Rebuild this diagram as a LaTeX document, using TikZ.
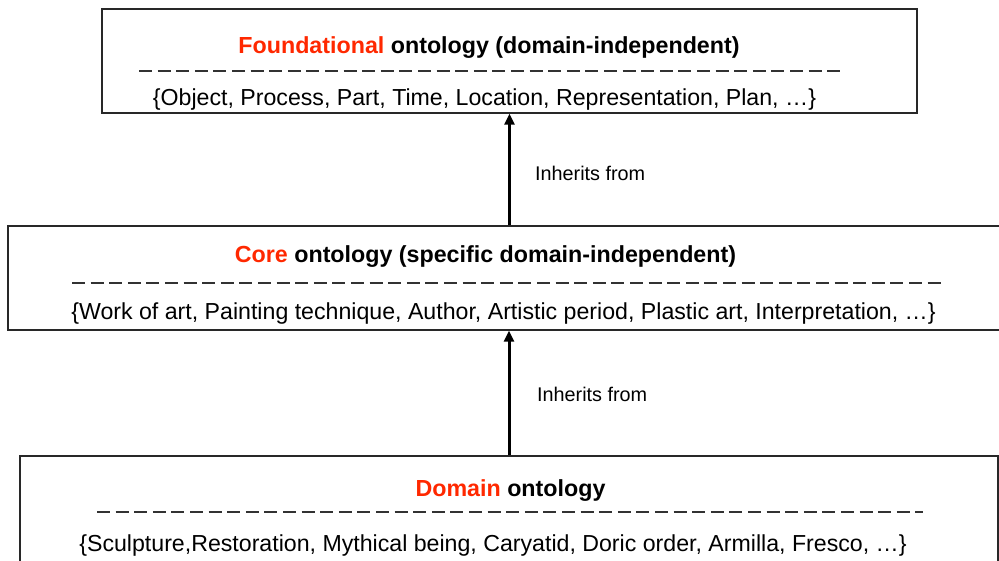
\documentclass[tikz,border=0pt]{standalone}
\usepackage{fontspec}
\setmainfont{Liberation Sans}
\usetikzlibrary{arrows.meta,calc}
\definecolor{hilite}{RGB}{255,40,0}
\definecolor{framegray}{RGB}{40,40,40}
\definecolor{dashgray}{RGB}{50,50,50}
\begin{document}
\begin{tikzpicture}[x=1pt,y=-1pt,
  layer/.style={draw=framegray,line width=1.3pt,rectangle,inner sep=0pt},
  title/.style={anchor=base,inner sep=0pt,font=\fontsize{23.25}{27}\selectfont\bfseries},
  members/.style={anchor=base,inner sep=0pt,font=\fontsize{23.15}{27}\selectfont},
  relabel/.style={anchor=base west,inner sep=0pt,font=\fontsize{19.8}{23}\selectfont},
  separator/.style={draw=dashgray,line width=1.7pt,dash pattern=on 13pt off 5.6pt},
  inherit/.style={line width=3pt,-{Triangle[length=11pt,width=10pt]}}]
\useasboundingbox (0,0) rectangle (999,560);
\begin{scope}
\clip (0,0) rectangle (999,560);
% the three ontology layers
\node[layer,minimum width=815pt,minimum height=104pt] (found) at (509.5,61) {};
\node[layer,minimum width=996pt,minimum height=104pt] (core) at (506,278) {};
\node[layer,minimum width=978pt,minimum height=110pt] (dom) at (509,511) {};
\end{scope}

% foundational layer
\node[title] (foundT) at (489,53) {\textcolor{hilite}{Foundational} ontology (domain-independent)};
\coordinate (fsA) at (139,71);
\coordinate (fsB) at (841,71);
\draw[separator] (fsA) -- (fsB);
\node[members] (foundM) at (484.5,105) {\{Object, Process, Part, Time, Location, Representation, Plan, …\}};

% core layer
\node[title] (coreT) at (485.5,262) {\textcolor{hilite}{Core} ontology (specific domain-independent)};
\coordinate (csA) at (72,283);
\coordinate (csB) at (943,283);
\draw[separator] (csA) -- (csB);
\node[members] (coreM) at (503.5,319) {\{Work of art, Painting technique, Author, Artistic period, Plastic art, Interpretation, …\}};

% domain layer
\node[title] (domT) at (510.5,496) {\textcolor{hilite}{Domain} ontology};
\coordinate (dsA) at (97,512);
\coordinate (dsB) at (923,512);
\draw[separator] (dsA) -- (dsB);
\node[members] (domM) at (493,551) {\{Sculpture,Restoration, Mythical being, Caryatid, Doric order, Armilla, Fresco, …\}};

% inheritance links
\draw[inherit] (core.north -| found.south) -- (found.south);
\draw[inherit] (dom.north) -- (dom.north |- core.south);
\node[relabel] (inh1) at (535,180) {Inherits from};
\node[relabel] (inh2) at (537,401) {Inherits from};
\end{tikzpicture}
\end{document}
